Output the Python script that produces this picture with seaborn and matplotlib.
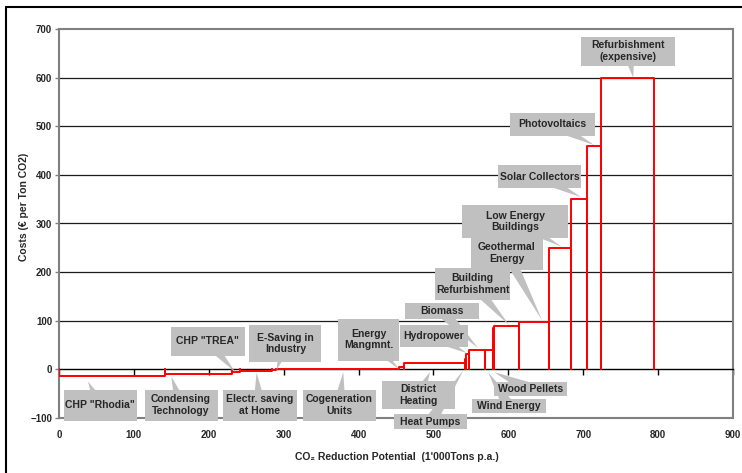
import numpy as np
import pandas as pd
import matplotlib
matplotlib.use("Agg")
import matplotlib.pyplot as plt
import matplotlib.transforms as mtransforms
from matplotlib.patches import Rectangle
from matplotlib.lines import Line2D
import seaborn as sns

# ---------------- data ----------------
measures = ['CHP "Rhodia"', 'Condensing\nTechnology', 'CHP "TREA"', 'Electr. saving\nat Home',
            'E-Saving in\nIndustry', 'Cogeneration\nUnits', 'Energy\nMangmnt.', 'District\nHeating',
            'Heat Pumps', 'Hydropower', 'Biomass', 'Wind Energy', 'Wood Pellets',
            'Building\nRefurbishment', 'Geothermal\nEnergy', 'Low Energy\nBuildings',
            'Solar Collectors', 'Photovoltaics', 'Refurbishment\n(expensive)']
potential = [142, 89, 11, 42, 6, 164, 7, 81, 2, 3.5, 21.5, 10, 2, 33, 40, 30, 21, 19, 70]
cost = [-13, -10, -6, -3, -1, 0, 4, 13, 22, 31, 40, 40, 86, 89, 98, 250, 350, 460, 600]
x_ticks = [0, 100, 200, 300, 400, 500, 600, 700, 800, 900]
y_ticks = [-100, 0, 100, 200, 300, 400, 500, 600, 700]

# ---------------- layout of callouts (not data) ----------------
label_xy = [(54.8, -74), (163, -73.5), (198.7, 58), (268, -73.5), (302.3, 53.5), (374.2, -73.5),
            (413.5, 61.3), (480.3, -53), (495.9, -108), (500.1, 69), (511.5, 119.4), (600.8, -76.2),
            (629.1, -40), (552.3, 175.6), (598, 239), (609.5, 304), (642, 396.5), (659.2, 504),
            (760.1, 654.7)]
box_px = [(73, 31), (73, 31), (74, 29), (74, 31), (72, 37), (73, 31), (61, 42), (73, 28), (73, 15),
          (68, 22), (74, 16), (74, 14), (73, 14), (75, 32), (72, 33), (106, 33), (83, 23), (85, 23),
          (94, 29)]
tip_xy = [(38.8, -25), (150, -15), (235, -5), (263.8, -6.6), (290.6, -1.4), (379.6, -5.6),
          (454, 0.6), (495.4, -5.6), (540, -1.5), (544.5, 33.5), (560, 43), (573, -5.6),
          (581, -5.6), (601, 91), (645, 101), (671.5, 252), (697.3, 354), (715, 461), (766.8, 600)]

# ---------------- style ----------------
sns.set_theme(style="white")
plt.rcParams["font.family"] = ["Liberation Sans", "DejaVu Sans"]
plt.rcParams["font.weight"] = "bold"
plt.rcParams["axes.labelweight"] = "bold"

W, H = 742, 473
fig = plt.figure(figsize=(W / 100, H / 100), dpi=100)
ax = fig.add_axes([59 / W, 55 / H, 674 / W, 389 / H])

# step outlines
right = np.cumsum(potential)
left = right - np.array(potential)
rows = []
for m, l, r, c in zip(measures, left, right, cost):
    for px, py in [(l, 0), (l, c), (r, c), (r, 0)]:
        rows.append({"measure": m, "x": px, "y": py})
df = pd.DataFrame(rows)
sns.lineplot(data=df, x="x", y="y", units="measure", estimator=None, sort=False,
             color="#FF0000", lw=1.4, ax=ax, zorder=4)

ax.set_xlim(0, 900)
ax.set_ylim(-100, 700)
ax.set_xticks(x_ticks)
ax.set_yticks(y_ticks)
ax.set_xlabel("")
ax.set_ylabel("")

for y in y_ticks[2:-1]:
    ax.axhline(y, color="#1a1a1a", lw=0.9, zorder=1)
ax.axhline(-100, color="#808080", lw=1.5, zorder=3, clip_on=False)

ax.spines["bottom"].set_position(("data", 0))
ax.spines["bottom"].set_color("black")
ax.spines["bottom"].set_linewidth(1.0)
for s in ["top", "right", "left"]:
    ax.spines[s].set_color("#808080")
    ax.spines[s].set_linewidth(1.5)

ax.tick_params(axis="x", direction="out", length=4, width=1, color="black", pad=40,
               labelsize=7, bottom=True)
ax.tick_params(axis="y", direction="out", length=3, width=1, color="#808080", pad=2,
               labelsize=7, left=True)

# callouts
for lab, (cx, cy), (w, h), tip in zip(measures, label_xy, box_px, tip_xy):
    ax.annotate("", xy=tip, xytext=(cx, cy),
                arrowprops=dict(arrowstyle="wedge,tail_width=0.9,shrink_factor=0.5",
                                fc="#C0C0C0", ec="none", shrinkA=0, shrinkB=0,
                                mutation_scale=10),
                zorder=5, annotation_clip=False)
    trans = fig.dpi_scale_trans + mtransforms.ScaledTranslation(cx, cy, ax.transData)
    ax.add_patch(Rectangle((-w / 200, -h / 200), w / 100, h / 100, transform=trans,
                           fc="#C0C0C0", ec="none", zorder=6, clip_on=False))
    ax.text(cx, cy, lab, ha="center", va="center", fontsize=7.5, fontweight="bold",
            linespacing=1.2, zorder=7)

# axis titles
fig.text(24 / W, 1 - 207 / H, "Costs (€ per Ton CO2)", rotation=90, ha="center", va="center",
         fontsize=7.5, fontweight="bold")
fig.text(397 / W, 1 - 457 / H, "CO₂ Reduction Potential  (1'000Tons p.a.)", ha="center",
         va="center", fontsize=7.5, fontweight="bold")

# outer chart frame (left and top edges visible)
fig.add_artist(Line2D([6 / W, 6 / W], [-0.1, 1 - 7 / H], transform=fig.transFigure,
                      color="black", lw=1.5))
fig.add_artist(Line2D([6 / W, 1.1], [1 - 7 / H, 1 - 7 / H], transform=fig.transFigure,
                      color="black", lw=1.5))

fig.savefig("out.png", dpi=100)
